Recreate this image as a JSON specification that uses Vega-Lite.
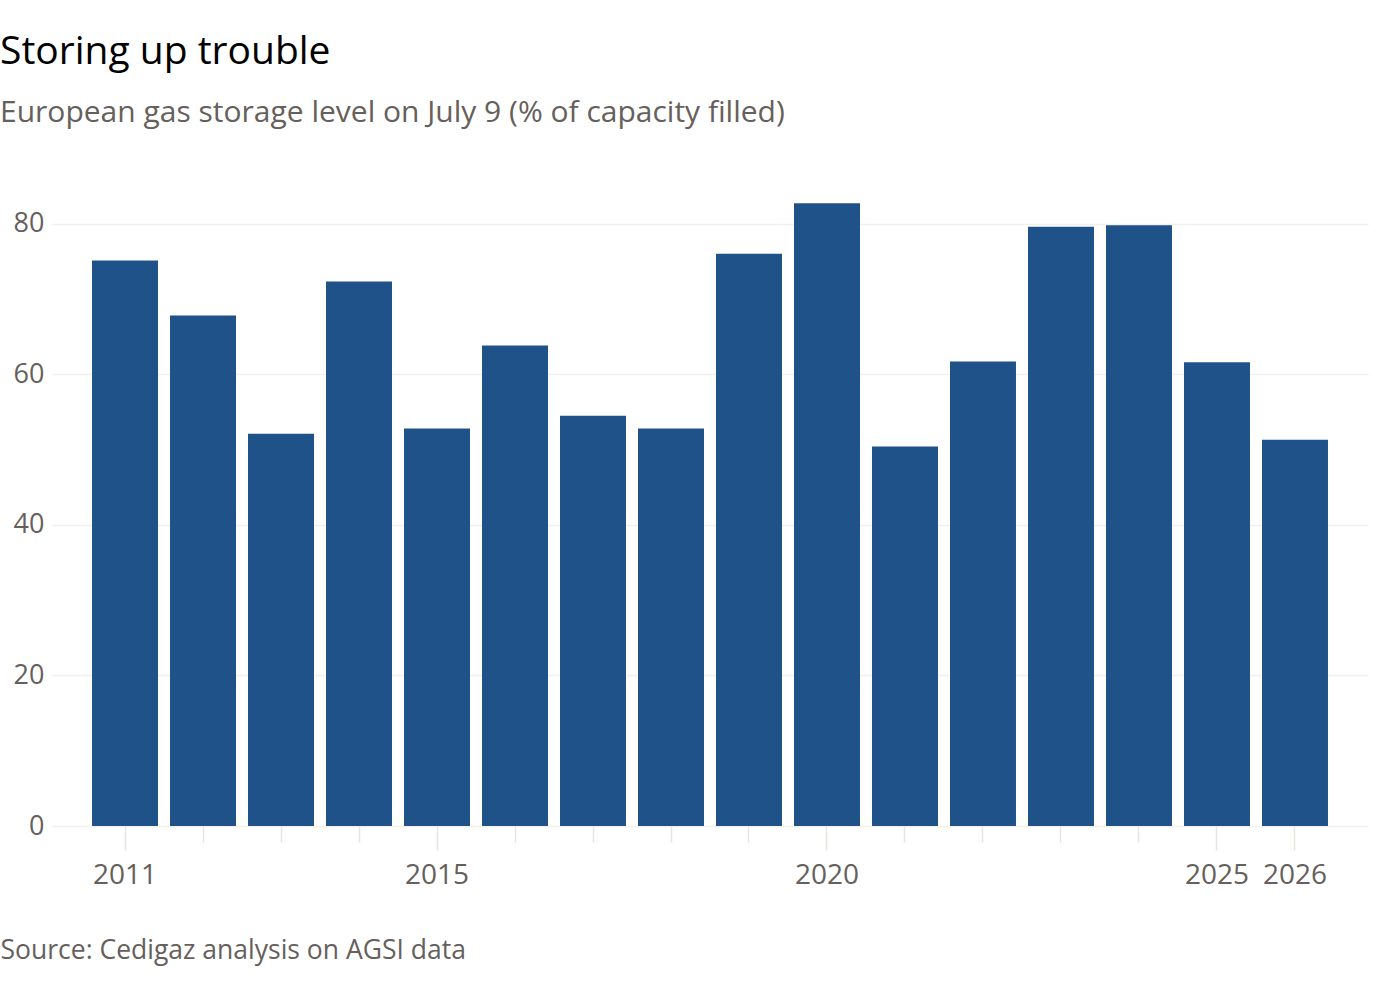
{
  "$schema": "https://vega.github.io/schema/vega-lite/v6.json",
  "width": 1316,
  "height": 640,
  "autosize": {"type": "none"},
  "padding": {"left": 52, "top": 186, "right": 32, "bottom": 174},
  "background": "white",
  "title": {
    "text": "Storing up trouble",
    "subtitle": "European gas storage level on July 9 (% of capacity filled)",
    "anchor": "start",
    "frame": "group",
    "dx": -52,
    "font": "Open Sans",
    "fontSize": 39,
    "fontWeight": "normal",
    "color": "#000000",
    "subtitleFont": "Open Sans",
    "subtitleFontSize": 30,
    "subtitleColor": "#66605c",
    "subtitlePadding": 26,
    "offset": 58
  },
  "data": {
    "values": [
      {"year": "2011", "level": 75.1},
      {"year": "2012", "level": 67.8},
      {"year": "2013", "level": 52.1},
      {"year": "2014", "level": 72.3},
      {"year": "2015", "level": 52.8},
      {"year": "2016", "level": 63.8},
      {"year": "2017", "level": 54.5},
      {"year": "2018", "level": 52.8},
      {"year": "2019", "level": 76.0},
      {"year": "2020", "level": 82.7},
      {"year": "2021", "level": 50.4},
      {"year": "2022", "level": 61.7},
      {"year": "2023", "level": 79.6},
      {"year": "2024", "level": 79.8},
      {"year": "2025", "level": 61.6},
      {"year": "2026", "level": 51.3}
    ]
  },
  "mark": {"type": "bar", "color": "#1f5289"},
  "encoding": {
    "x": {
      "field": "year",
      "type": "ordinal",
      "scale": {"paddingInner": 0.154, "paddingOuter": 0.513},
      "axis": {
        "labelAngle": 0,
        "domain": false,
        "grid": false,
        "ticks": true,
        "tickColor": "#e8e4e0",
        "tickWidth": 1.5,
        "tickSize": {"condition": {"test": "indexof(['2011','2015','2020','2025','2026'], datum.label) >= 0", "value": 24}, "value": 16},
        "labelExpr": "indexof(['2011','2015','2020','2025','2026'], datum.label) >= 0 ? datum.label : ''",
        "labelFont": "Open Sans",
        "labelFontSize": 28,
        "labelColor": "#66605c",
        "labelPadding": 11,
        "title": "Source: Cedigaz analysis on AGSI data",
        "titleFont": "Open Sans",
        "titleFontSize": 26.5,
        "titleFontWeight": "normal",
        "titleColor": "#66605c",
        "titleX": -52,
        "titleY": 132,
        "titleAlign": "left",
        "titleAnchor": "start",
        "titleBaseline": "alphabetic"
      }
    },
    "y": {
      "field": "level",
      "type": "quantitative",
      "scale": {"domain": [0, 85]},
      "axis": {
        "values": [0, 20, 40, 60, 80],
        "domain": false,
        "ticks": false,
        "grid": true,
        "gridColor": "#f2efec",
        "gridWidth": 1.5,
        "labelFont": "Open Sans",
        "labelFontSize": 27,
        "labelColor": "#66605c",
        "labelPadding": 8,
        "title": null
      }
    }
  },
  "config": {"view": {"stroke": null}}
}
